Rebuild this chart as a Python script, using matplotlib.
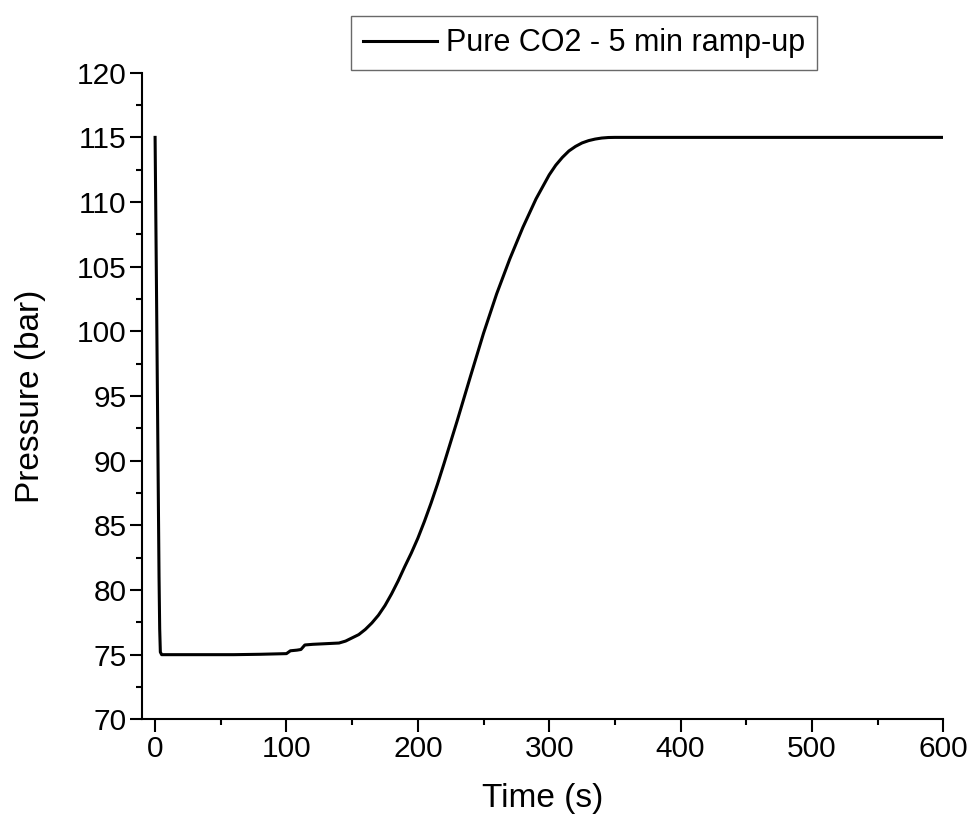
import matplotlib
matplotlib.use("Agg")
import matplotlib.pyplot as plt
from matplotlib.ticker import MultipleLocator

plt.rcParams['font.family'] = ['Liberation Sans', 'DejaVu Sans']

# data
time_s = [0, 1, 2, 3, 3.5, 4, 5, 20, 40, 60, 80, 100, 103, 108, 111, 114,
          120, 130, 140, 145, 150, 155, 160, 165, 170, 175, 180, 185, 190,
          195, 200, 205, 210, 215, 220, 230, 240, 250, 260, 270, 280, 290,
          300, 305, 310, 315, 320, 325, 330, 335, 340, 345, 350, 360, 400,
          500, 600]
pressure_bar = [115, 104, 92.5, 81, 77, 75.2, 75, 75, 75, 75, 75.03, 75.08,
                75.3, 75.35, 75.4, 75.75, 75.8, 75.85, 75.9, 76.05, 76.3,
                76.55, 76.95, 77.45, 78.05, 78.8, 79.7, 80.7, 81.8,
                82.85, 84.0, 85.3, 86.7, 88.2, 89.8, 93.1, 96.5, 99.85,
                102.9, 105.6, 108.05, 110.25, 112.1, 112.85, 113.45, 113.95,
                114.3, 114.57, 114.75, 114.87, 114.95, 114.99, 115.0, 115.0,
                115.0, 115.0, 115.0]
label = "Pure CO2 - 5 min ramp-up"

fig = plt.figure(figsize=(9.67, 8.19), dpi=100)
ax = fig.add_axes([0.1468, 0.1217, 0.8287, 0.7895])

ax.plot(time_s, pressure_bar, color='black', lw=2.2, label=label)

ax.set_xlim(-10, 600)
ax.set_ylim(70, 120)
ax.xaxis.set_major_locator(MultipleLocator(100))
ax.xaxis.set_minor_locator(MultipleLocator(50))
ax.yaxis.set_major_locator(MultipleLocator(5))
ax.yaxis.set_minor_locator(MultipleLocator(2.5))

ax.spines['top'].set_visible(False)
ax.spines['right'].set_visible(False)
for s in ('left', 'bottom'):
    ax.spines[s].set_linewidth(1.5)
ax.tick_params(which='major', direction='out', length=9, width=1.5,
               labelsize=21.5, pad=2)
ax.tick_params(which='minor', direction='out', length=4.5, width=1.5)

ax.set_xlabel('Time (s)', fontsize=24, labelpad=15)
ax.set_ylabel('Pressure (bar)', fontsize=24, labelpad=22)

leg = fig.legend(loc='upper left', bbox_to_anchor=(351 / 967, 1 - 16 / 819),
                 fontsize=22, frameon=True, fancybox=False, borderpad=0.4,
                 borderaxespad=0, handlelength=2.4, handletextpad=0.3)
leg.get_frame().set_edgecolor('#444444')
leg.get_frame().set_linewidth(1.0)

fig.savefig('out.png', dpi=100)
